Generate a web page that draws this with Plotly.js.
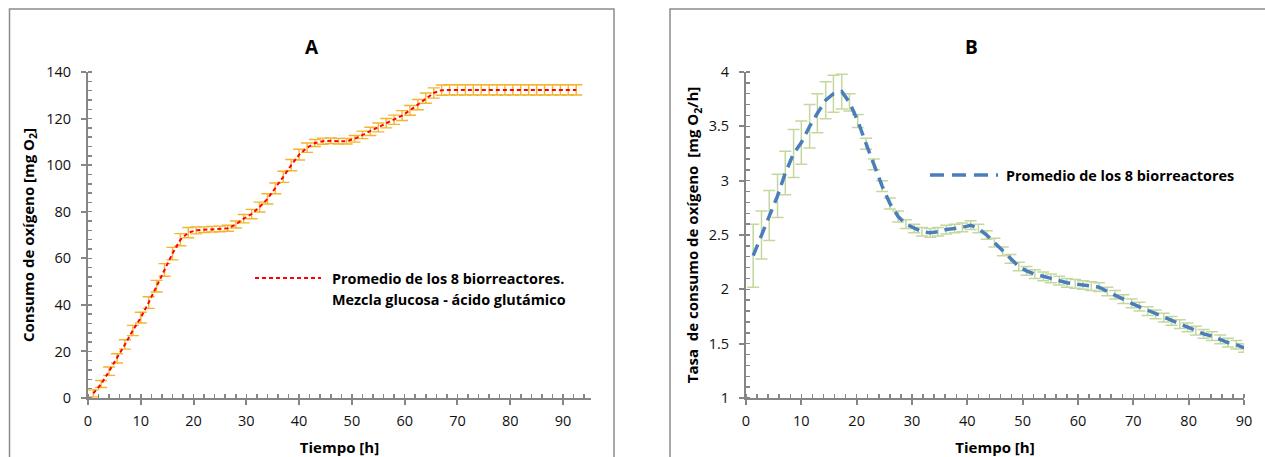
<!DOCTYPE html>
<html>
<head>
<meta charset="utf-8">
<script src="https://cdn.plot.ly/plotly-3.0.1.min.js"></script>
<style>html,body{margin:0;padding:0;background:#fff;}#chart{width:1265px;height:457px;}</style>
</head>
<body>
<div id="chart"></div>
<script>
// ---- Panel A: cumulative oxygen consumption ----
const timeA = [1, 2.5, 4, 5.5, 7, 8.5, 10, 11.5, 13, 14.5, 16, 17.5, 19, 20.5, 22, 23.5, 25, 26.5, 28, 29.5,
  31, 32.5, 34, 35.5, 37, 38.5, 40, 41.5, 43, 44.5, 46, 47.5, 49, 50.5, 52, 53.5, 55, 56.5, 58, 59.5,
  61, 62.5, 64, 65.5, 67, 68.5, 70, 71.5, 73, 74.5, 76, 77.5, 79, 80.5, 82, 83.5, 85, 86.5, 88, 89.5, 91, 92.5];
const consumoA = [2, 6, 11.5, 17, 23, 29, 34.5, 41, 48, 55, 62, 68, 71, 72, 72.3, 72.5, 72.6, 72.9, 74.5, 77,
  79, 82, 85.5, 90, 95, 100, 104.5, 107.5, 109.5, 110.3, 110.5, 110.3, 110.3, 111.3, 113, 114.5, 116.2, 118, 119.5, 121.3,
  123.5, 126, 128.8, 131, 132.2, 132.3, 132.3, 132.3, 132.3, 132.3, 132.3, 132.3, 132.3, 132.3, 132.3, 132.3, 132.3, 132.3, 132.3, 132.3, 132.3, 132.3];
const errorA = [1.5, 1.5, 1.8, 2, 2, 2.2, 2.3, 2.5, 2.5, 2.7, 2.7, 2.6, 2.2, 1.5, 1.2, 1.2, 1.2, 1.3, 1.5, 1.8,
  2, 2.1, 2.2, 2.3, 2.4, 2.4, 2.3, 2, 1.5, 1.3, 1.2, 1.2, 1.2, 1.4, 1.6, 1.8, 1.9, 2, 2, 2.1,
  2.1, 2.2, 2.2, 2.2, 2.2, 2.2, 2.2, 2.2, 2.2, 2.2, 2.2, 2.2, 2.2, 2.2, 2.2, 2.2, 2.2, 2.2, 2.2, 2.2, 2.2, 2.2];

// ---- Panel B: oxygen consumption rate ----
const timeB = [1.3, 2.8, 4.2, 5.7, 7.1, 8.6, 10.0, 11.5, 12.9, 14.4, 15.8, 17.3, 18.7, 20.2, 21.7, 23.1, 24.6, 26.0, 27.5, 28.9,
  30.4, 31.8, 33.3, 34.7, 36.2, 37.7, 39.1, 40.6, 42.0, 43.5, 44.9, 46.4, 47.8, 49.3, 50.7, 52.2, 53.7, 55.1, 56.6, 58.0,
  59.5, 60.9, 62.4, 63.8, 65.3, 66.7, 68.2, 69.7, 71.1, 72.6, 74.0, 75.5, 76.9, 78.4, 79.8, 81.3, 82.7, 84.2, 85.7, 87.1, 88.6, 90.0];
const tasaB = [2.31, 2.50, 2.68, 2.86, 3.07, 3.25, 3.35, 3.50, 3.62, 3.74, 3.80, 3.82, 3.72, 3.55, 3.34, 3.15, 2.95, 2.79, 2.67, 2.60,
  2.56, 2.53, 2.52, 2.53, 2.55, 2.56, 2.57, 2.59, 2.56, 2.50, 2.43, 2.35, 2.28, 2.21, 2.17, 2.14, 2.12, 2.10, 2.08, 2.06,
  2.05, 2.04, 2.03, 2.02, 1.98, 1.95, 1.91, 1.87, 1.84, 1.80, 1.77, 1.74, 1.71, 1.68, 1.65, 1.62, 1.59, 1.57, 1.54, 1.51, 1.49, 1.46];
const errorB = [0.29, 0.22, 0.23, 0.20, 0.20, 0.22, 0.20, 0.20, 0.18, 0.17, 0.17, 0.16, 0.08, 0.06, 0.05, 0.05, 0.05, 0.05, 0.05, 0.04,
  0.04, 0.04, 0.04, 0.04, 0.04, 0.04, 0.04, 0.04, 0.04, 0.04, 0.04, 0.04, 0.04, 0.04, 0.04, 0.04, 0.04, 0.04, 0.04, 0.04,
  0.04, 0.04, 0.04, 0.04, 0.04, 0.04, 0.04, 0.04, 0.04, 0.04, 0.04, 0.04, 0.04, 0.04, 0.04, 0.04, 0.04, 0.04, 0.04, 0.04, 0.04, 0.04];

const legendA1 = 'Promedio de los 8 biorreactores.';
const legendA2 = 'Mezcla glucosa - ácido glutámico';
const legendB = 'Promedio de los 8 biorreactores';

const FONT = '"Open Sans", "Noto Sans", sans-serif';
const W = 1265, H = 457;
const px = v => v / W;
const py = v => 1 - v / H;

const traces = [
  {
    x: timeA, y: consumoA, type: 'scatter', mode: 'lines', xaxis: 'x', yaxis: 'y',
    line: {color: '#FF0000', width: 2, dash: '4px,3px'},
    error_y: {type: 'data', array: errorA, visible: true, color: '#F2B52C', thickness: 1.4, width: 6},
    showlegend: false, name: legendA1
  },
  {
    x: timeB, y: tasaB, type: 'scatter', mode: 'lines', xaxis: 'x2', yaxis: 'y2',
    line: {color: '#4A7EBB', width: 3.5, dash: '12px,7px'},
    error_y: {type: 'data', array: errorB, visible: true, color: '#C4D79E', thickness: 1.5, width: 6},
    showlegend: false, name: legendB
  }
];

const axisCommon = {
  showgrid: false, zeroline: false, showline: true, linecolor: '#868686', linewidth: 2,
  ticks: 'outside', ticklen: 5, tickwidth: 2, tickcolor: '#868686',
  tickfont: {family: FONT, size: 14.5, color: '#111'},
  fixedrange: true
};
const titleFont = {family: FONT, size: 15, color: '#000', weight: 'bold'};

const layout = {
  width: W, height: H,
  margin: {l: 0, r: 0, t: 0, b: 0},
  paper_bgcolor: '#fff', plot_bgcolor: 'rgba(0,0,0,0)',
  font: {family: FONT, color: '#000'},
  showlegend: false,
  xaxis: Object.assign({}, axisCommon, {
    domain: [px(88), px(591)], range: [0, 95.3], anchor: 'y',
    tick0: 0, dtick: 10, ticklabelstandoff: 4,
    minor: {dtick: 2, ticks: 'inside', ticklen: 4, tickcolor: '#868686', tickwidth: 1.5},
    title: {text: 'Tiempo [h]', font: titleFont, standoff: 15}
  }),
  yaxis: Object.assign({}, axisCommon, {
    domain: [1 - 398 / H, 1 - 72 / H], range: [0, 140], anchor: 'x',
    tick0: 0, dtick: 20, ticklabelstandoff: 7,
    minor: {dtick: 4, ticks: 'inside', ticklen: 4, tickcolor: '#868686', tickwidth: 1.5},
    title: {text: 'Consumo de oxígeno [mg O<sub>2</sub>]', font: titleFont, standoff: 8}
  }),
  xaxis2: Object.assign({}, axisCommon, {
    domain: [px(746), px(1244)], range: [0, 90], anchor: 'y2',
    tick0: 0, dtick: 10, ticklabelstandoff: 4,
    minor: {dtick: 2, ticks: 'inside', ticklen: 4, tickcolor: '#868686', tickwidth: 1.5},
    title: {text: 'Tiempo [h]', font: titleFont, standoff: 15}
  }),
  yaxis2: Object.assign({}, axisCommon, {
    domain: [1 - 398 / H, 1 - 72 / H], range: [1, 4], anchor: 'x2',
    tick0: 1, dtick: 0.5, ticklabelstandoff: 7,
    minor: {dtick: 0.1, ticks: 'inside', ticklen: 4, tickcolor: '#868686', tickwidth: 1.5},
    title: {text: 'Tasa  de consumo de oxígeno  [mg O<sub>2</sub>/h]', font: titleFont, standoff: 6}
  }),
  shapes: [
    // chart frames
    {type: 'rect', xref: 'paper', yref: 'paper', x0: px(9.5), x1: px(614), y0: py(470), y1: py(9),
     line: {color: '#8C8C8C', width: 1.5}, fillcolor: 'rgba(0,0,0,0)', layer: 'below'},
    {type: 'rect', xref: 'paper', yref: 'paper', x0: px(670), x1: px(1275), y0: py(470), y1: py(9),
     line: {color: '#8C8C8C', width: 1.5}, fillcolor: 'rgba(0,0,0,0)', layer: 'below'},
    // legend samples
    {type: 'line', xref: 'paper', yref: 'paper', x0: px(255), x1: px(321), y0: py(278), y1: py(278),
     line: {color: '#FF0000', width: 2, dash: '4px,3px'}},
    {type: 'line', xref: 'paper', yref: 'paper', x0: px(930), x1: px(998), y0: py(175), y1: py(175),
     line: {color: '#4A7EBB', width: 3.5, dash: '14px,8px'}}
  ],
  annotations: [
    {text: '<b>A</b>', xref: 'paper', yref: 'paper', x: px(312), y: py(47), showarrow: false,
     font: {family: FONT, size: 19, color: '#000'}, xanchor: 'center', yanchor: 'middle'},
    {text: '<b>B</b>', xref: 'paper', yref: 'paper', x: px(971), y: py(47), showarrow: false,
     font: {family: FONT, size: 19, color: '#000'}, xanchor: 'center', yanchor: 'middle'},
    {text: '<b>' + legendA1 + '</b>', xref: 'paper', yref: 'paper', x: px(330), y: py(278), showarrow: false,
     font: {family: FONT, size: 14.4, color: '#000'}, xanchor: 'left', yanchor: 'middle'},
    {text: '<b>' + legendA2 + '</b>', xref: 'paper', yref: 'paper', x: px(330), y: py(299), showarrow: false,
     font: {family: FONT, size: 14.4, color: '#000'}, xanchor: 'left', yanchor: 'middle'},
    {text: '<b>' + legendB + '</b>', xref: 'paper', yref: 'paper', x: px(1004), y: py(176), showarrow: false,
     font: {family: FONT, size: 14.4, color: '#000'}, xanchor: 'left', yanchor: 'middle'}
  ]
};

Plotly.newPlot('chart', traces, layout, {staticPlot: true, displayModeBar: false});
</script>
</body>
</html>
